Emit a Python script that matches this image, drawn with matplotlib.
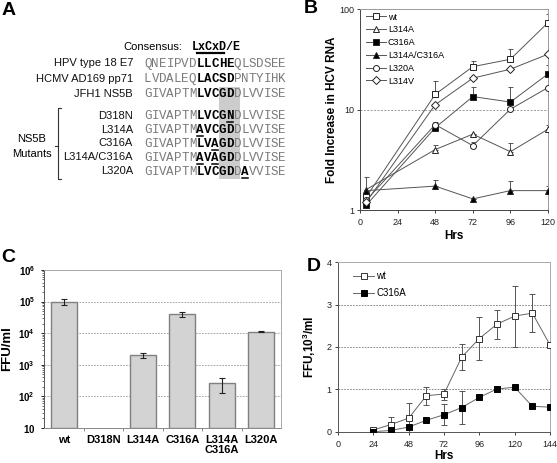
import numpy as np
import matplotlib
matplotlib.use("Agg")
import matplotlib.pyplot as plt
from matplotlib.patches import Rectangle

plt.rcParams['font.family'] = ['Liberation Sans', 'DejaVu Sans']
plt.rcParams['mathtext.fontset'] = 'custom'
plt.rcParams['mathtext.rm'] = 'Liberation Sans'
plt.rcParams['mathtext.bf'] = 'Liberation Sans:bold'

# ---------------- data ----------------
# A: alignment
seq_labels = ["HPV type 18 E7", "HCMV AD169 pp71", "JFH1 NS5B",
              "D318N", "L314A", "C316A", "L314A/C316A", "L320A"]
seqs = ["QNEIPVDLLCHEQLSDSEE", "LVDALEQLACSDPNTYIHK", "GIVAPTMLVCGDDLVVISE",
        "GIVAPTMLVCGNDLVVISE", "GIVAPTMAVCGDDLVVISE", "GIVAPTMLVAGDDLVVISE",
        "GIVAPTMAVAGDDLVVISE", "GIVAPTMLVCGDDAVVISE"]
seq_bold = [[7, 8, 9, 10, 11]] * 7 + [[7, 8, 9, 10, 11, 13]]
seq_under = [[], [], [], [11], [7], [9], [7, 9], [13]]
consensus = "LxCxD/E"

# B: fold increase in HCV RNA
hrs_b = [4, 48, 72, 96, 120]
wt_rna = [1.35, 14.2, 26.8, 31.8, 73.6]
wt_rna_hi = [np.nan, 19.5, 30.6, 40.0, 90.0]
l314a_rna = [1.6, 4.0, 5.7, 3.81, 6.38]
l314a_rna_hi = [np.nan, 4.45, np.nan, 4.62, 7.0]
c316a_rna = [1.12, 6.6, 13.5, 11.9, 22.7]
c316a_rna_hi = [np.nan, 7.3, 16.7, 16.7, 27.9]
dbl_rna = [1.56, 1.73, 1.29, 1.56, 1.56]
dbl_rna_hi = [2.12, 2.0, np.nan, 1.96, 1.72]
l320a_rna = [1.25, 7.1, 4.38, 10.1, 16.6]
l320a_rna_hi = [np.nan, 7.6, 4.8, np.nan, np.nan]
l314v_rna = [1.2, 11.2, 20.6, 25.3, 35.7]
l314v_rna_hi = [np.nan, np.nan, np.nan, np.nan, np.nan]

# C: titres
c_cats = ["wt", "D318N", "L314A", "C316A", "L314A\nC316A", "L320A"]
c_ffu = [1.0e5, np.nan, 2.0e3, 3.9e4, 2.6e2, 1.12e4]
c_err = [2.0e4, np.nan, 3.5e2, 7.0e3, 1.3e2, 6.0e2]

# D: time course
hrs_d = [24, 36, 48, 60, 72, 84, 96, 108, 120, 132, 144]
wt_ffu = [0.04, 0.17, 0.32, 0.85, 0.89, 1.76, 2.20, 2.54, 2.73, 2.80, 2.05]
wt_ffu_err = [0.0, 0.18, 0.35, 0.21, 0.13, 0.30, 0.50, 0.34, 0.72, 0.44, 0.0]
c316a_ffu = [0.0, 0.03, 0.11, 0.27, 0.40, 0.57, 0.81, 1.01, 1.05, 0.60, 0.58]
c316a_ffu_err = [0.0, 0.0, 0.0, 0.0, 0.25, 0.39, 0.07, 0.08, 0.05, 0.0, 0.0]

W, H = 557, 463
fig = plt.figure(figsize=(W / 100, H / 100), dpi=100)

def box(l, t, r, b):
    return [l / W, (H - b) / H, (r - l) / W, (b - t) / H]

# ---------------- panel A ----------------
axA = fig.add_axes([0, 0, 1, 1])
axA.set_xlim(0, W)
axA.set_ylim(H, 0)
axA.axis('off')

x0, cw = 144, 7.47
row_y = [63, 78.5, 93.5, 115.5, 129.5, 143, 157, 171]
axA.add_patch(Rectangle((x0 + 10 * cw, 87), 2.8 * cw, 92, color='#cccccc', lw=0, zorder=0))
axA.text(182, 50, "Consensus:", ha='right', va='baseline', fontsize=8)
axA.text(192, 50, consensus, ha='left', va='baseline', fontsize=8.5,
         family='Liberation Mono', fontweight='bold')
axA.plot([197, 224], [53, 53], color='k', lw=1.6)
for lab, s, b, u, y in zip(seq_labels, seqs, seq_bold, seq_under, row_y):
    axA.text(133, y + 3.5, lab, ha='right', va='baseline', fontsize=8, color='#111111')
    for i, ch in enumerate(s):
        bd = i in b
        axA.text(x0 + (i + 0.5) * cw, y + 3.7, ch, ha='center', va='baseline',
                 fontsize=9, family='Liberation Mono',
                 fontweight='bold' if bd else 'normal',
                 color='black' if bd else '#7a7a7a')
    for i in u:
        axA.plot([x0 + i * cw + 0.8, x0 + (i + 1) * cw - 0.8], [y + 6.5, y + 6.5],
                 color='k', lw=1.1)
# bracket
axA.plot([61, 58.3, 58.3, 61], [107.7, 107.7, 179.3, 179.3], color='#333333', lw=0.8)
axA.plot([55, 58.3], [145.7, 145.7], color='#333333', lw=0.8)
axA.text(31.7, 138.5, "NS5B", ha='center', va='center', fontsize=8)
axA.text(31.7, 154, "Mutants", ha='center', va='center', fontsize=8)

for letter, lx, ly in [("A", 2, 2), ("B", 304, 0), ("C", 1, 249), ("D", 307, 258)]:
    axA.text(lx, ly, letter, ha='left', va='top', fontsize=14, fontweight='bold')

# ---------------- panel B ----------------
axB = fig.add_axes(box(360, 9.3, 548, 210))
series_b = [("wt", wt_rna, wt_rna_hi, 's', 'white', 4.2),
            ("L314A", l314a_rna, l314a_rna_hi, '^', 'white', 4.5),
            ("C316A", c316a_rna, c316a_rna_hi, 's', 'black', 4.2),
            ("L314A/C316A", dbl_rna, dbl_rna_hi, '^', 'black', 4.5),
            ("L320A", l320a_rna, l320a_rna_hi, 'o', 'white', 4.3),
            ("L314V", l314v_rna, l314v_rna_hi, 'D', 'white', 3.6)]
for name, v, hi, mk, fc, ms in series_b:
    v = np.array(v)
    up = np.nan_to_num(np.array(hi) - v, nan=0.0)
    axB.errorbar(hrs_b, v, yerr=[np.zeros_like(v), up], fmt='none', ecolor='#555555',
                 elinewidth=0.7, capsize=1.8, capthick=0.7, zorder=2)
    axB.plot(hrs_b, v, color='#555555', lw=0.7, marker=mk, ms=ms, mfc=fc,
             mec='#222222', mew=0.7, label=name, zorder=3)
axB.set_yscale('log')
axB.set_ylim(1, 100)
axB.set_xlim(0, 120)
axB.set_xticks([0, 24, 48, 72, 96, 120])
axB.set_yticks([1, 10, 100])
axB.set_yticklabels(["1", "10", "100"])
axB.minorticks_off()
axB.axhline(10, color='#999999', ls=(0, (2, 1.5)), lw=0.7, zorder=1)
axB.tick_params(labelsize=6.5, length=2.5, width=0.6, colors='#222222')
axB.tick_params(axis='y', pad=1.5)
for sp in ['top', 'right']:
    axB.spines[sp].set_color('#999999')
for sp in ['left', 'bottom']:
    axB.spines[sp].set_color('#444444')
for sp in axB.spines.values():
    sp.set_linewidth(0.7)
axB.set_ylabel("Fold Increase in HCV RNA", fontsize=8.5, fontweight='bold', labelpad=1)
axB.set_xlabel("Hrs", fontsize=8.5, fontweight='bold', labelpad=2)
axB.legend(loc='upper left', bbox_to_anchor=(0.0, 1.015), frameon=False, fontsize=6.5,
           handlelength=2.2, handletextpad=0.2, labelspacing=0.42, borderaxespad=0.3)

# ---------------- panel C ----------------
axC = fig.add_axes(box(44, 270, 281, 427.7))
xc = np.arange(len(c_cats))
vals = np.array(c_ffu)
ok = np.isfinite(vals)
axC.bar(xc[ok], vals[ok] - 10, bottom=10, width=0.66, color='#d3d3d3',
        edgecolor='#808080', lw=1.0, zorder=2)
axC.errorbar(xc[ok], vals[ok], yerr=np.array(c_err)[ok], fmt='none', ecolor='#222222',
             elinewidth=0.8, capsize=2, capthick=0.8, zorder=3)
axC.set_yscale('log')
axC.set_ylim(10, 1e6)
axC.set_xlim(-0.5, len(c_cats) - 0.5)
axC.set_yticks([10, 1e2, 1e3, 1e4, 1e5, 1e6])
axC.set_yticklabels([r"$\mathbf{10}$", r"$\mathbf{10^2}$", r"$\mathbf{10^3}$", r"$\mathbf{10^4}$",
                     r"$\mathbf{10^5}$", r"$\mathbf{10^6}$"])
axC.set_xticks(xc)
axC.set_xticklabels(c_cats, fontweight='bold', fontsize=8, linespacing=1.0)
axC.set_xticks(np.arange(0.5, len(c_cats) - 0.5), minor=True)
axC.tick_params(axis='x', which='major', length=0, pad=5)
axC.tick_params(axis='x', which='minor', length=2.5, width=0.6, color='#777777')
axC.tick_params(axis='y', which='major', labelsize=7, length=2.5, width=0.6, pad=4)
axC.tick_params(axis='y', which='minor', length=1.5, width=0.4)
axC.grid(axis='y', which='major', color='#999999', ls=(0, (2, 1.5)), lw=0.6, zorder=0)
for sp in ['top', 'right']:
    axC.spines[sp].set_color('#aaaaaa')
axC.spines['bottom'].set_color('#888888')
axC.spines['left'].set_color('#555555')
for sp in axC.spines.values():
    sp.set_linewidth(0.7)
axC.set_ylabel("FFU/ml", fontsize=9.5, fontweight='bold', labelpad=4)

# ---------------- panel D ----------------
axD = fig.add_axes(box(338, 262.3, 550, 431.7))
axD.errorbar(hrs_d, wt_ffu, yerr=wt_ffu_err, fmt='none', ecolor='#555555',
             elinewidth=0.7, capsize=2, capthick=0.7, zorder=2)
axD.errorbar(hrs_d, c316a_ffu, yerr=c316a_ffu_err, fmt='none', ecolor='#555555',
             elinewidth=0.7, capsize=2, capthick=0.7, zorder=2)
axD.plot(hrs_d, wt_ffu, color='#666666', lw=0.7, marker='s', ms=4, mfc='white',
         mec='#333333', mew=0.7, label="wt", zorder=3)
axD.plot(hrs_d, c316a_ffu, color='#666666', lw=0.7, marker='s', ms=4, mfc='black',
         mec='black', mew=0.7, label="C316A", zorder=3)
axD.set_xlim(0, 144)
axD.set_ylim(0, 4)
axD.set_xticks([0, 24, 48, 72, 96, 120, 144])
axD.set_yticks([0, 1, 2, 3, 4])
for yv in [1, 2, 3]:
    axD.axhline(yv, color='#777777', ls=(0, (2, 1.5)), lw=0.6, zorder=1)
axD.tick_params(labelsize=6.5, length=2.5, width=0.6, colors='#222222')
axD.tick_params(axis='y', pad=2)
for sp in ['top', 'right']:
    axD.spines[sp].set_color('#aaaaaa')
for sp in ['left', 'bottom']:
    axD.spines[sp].set_color('#555555')
for sp in axD.spines.values():
    sp.set_linewidth(0.7)
axD.set_ylabel(r"FFU,10$^\mathbf{3}$/ml", fontsize=8.5, fontweight='bold', labelpad=6)
axD.set_xlabel("Hrs", fontsize=8.5, fontweight='bold', labelpad=1)
axD.legend(loc='upper left', bbox_to_anchor=(0.03, 1.0), frameon=False, fontsize=7,
           handlelength=2.2, handletextpad=0.2, labelspacing=0.75)

fig.savefig("out.png", dpi=100)
